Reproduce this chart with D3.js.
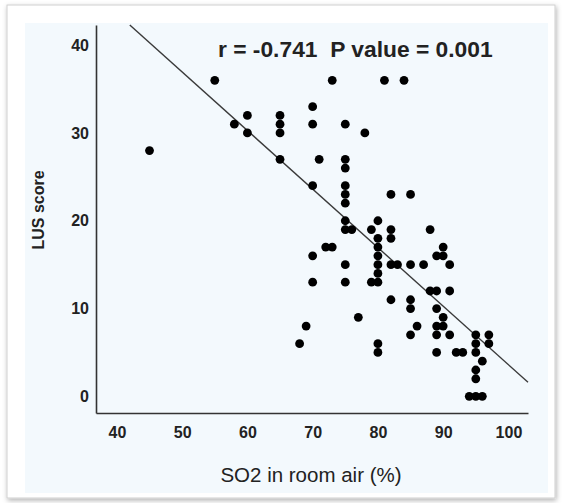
<html lang="en">
  <head>
    <meta charset="UTF-8" />
    <title>LUS score vs SO2</title>
    <script src="https://d3js.org/d3.v7.min.js"></script>
  </head>
  <style>
    body {
      margin: 0;
      background: #ffffff;
    }
    svg {
      display: block;
    }
    .tick text {
      font-family: "Liberation Sans Narrow", "Arial Narrow", "Liberation Sans", Arial, sans-serif;
      font-weight: bold;
      font-size: 16px;
      fill: #222;
    }
  </style>
  <body>
    <div id="viz"></div>
    <script>
      // SO2 in room air (%) and LUS score of each patient
      var so2 = [
        45, 55, 58, 60, 60, 65, 65, 65, 65,
        68, 69, 70, 70, 70, 70, 70, 71, 72, 73, 73,
        75, 75, 75, 75, 75, 75, 75, 75, 75, 75, 76, 77, 78,
        79, 79, 80, 80, 80, 80, 80, 80, 80, 80, 80,
        81, 82, 82, 82, 82, 82, 83, 84, 85, 85, 85, 85, 85, 86, 87,
        88, 88, 89, 89, 89, 89, 89, 89, 90, 90, 90, 90, 91, 91, 91, 92, 93,
        94, 95, 95, 95, 95, 95, 95, 96, 96, 97, 97
      ];
      var lus = [
        28, 36, 31, 32, 30, 32, 31, 30, 27,
        6, 8, 33, 31, 24, 16, 13, 27, 17, 17, 36,
        31, 27, 26, 24, 23, 22, 20, 19, 15, 13, 19, 9, 30,
        19, 13, 20, 18, 17, 16, 15, 14, 13, 6, 5,
        36, 23, 19, 18, 15, 11, 15, 36, 23, 15, 11, 10, 7, 8, 15,
        19, 12, 16, 12, 10, 8, 7, 5, 17, 16, 9, 8, 15, 12, 7, 5, 5,
        0, 7, 6, 5, 3, 2, 0, 4, 0, 7, 6
      ];
      var xTicks = [40, 50, 60, 70, 80, 90, 100];
      var yTicks = [0, 10, 20, 30, 40];
      // fitted line: LUS = intercept + slope * SO2
      var fitIntercept = 70.3;
      var fitSlope = -0.667;
      var statsLabel = "r = -0.741\u00a0\u00a0P value = 0.001";

      var width = 563,
        height = 503;

      var svg = d3
        .select("#viz")
        .append("svg")
        .attr("width", width)
        .attr("height", height);

      var defs = svg.append("defs");
      var shadow = defs
        .append("filter")
        .attr("id", "shadow")
        .attr("x", "-5%")
        .attr("y", "-5%")
        .attr("width", "110%")
        .attr("height", "110%");
      shadow
        .append("feDropShadow")
        .attr("dx", 1)
        .attr("dy", 2)
        .attr("stdDeviation", 2.5)
        .attr("flood-color", "#000")
        .attr("flood-opacity", 0.3);

      // card and panel
      svg
        .append("rect")
        .attr("x", 7)
        .attr("y", 5)
        .attr("width", 548)
        .attr("height", 493)
        .attr("fill", "#ffffff")
        .attr("stroke", "#cfcfcf")
        .attr("filter", "url(#shadow)");
      svg
        .append("rect")
        .attr("x", 25)
        .attr("y", 23)
        .attr("width", 523)
        .attr("height", 470)
        .attr("fill", "#f3f9fd");

      var x = d3.scaleLinear().domain([36.8, 103]).range([96, 528]);
      var y = d3.scaleLinear().domain([-1.9, 42.3]).range([413, 25]);

      var xAxis = svg
        .append("g")
        .attr("transform", "translate(0," + y.range()[0] + ")")
        .call(d3.axisBottom(x).tickValues(xTicks).tickSize(0).tickPadding(14));
      xAxis.select(".domain").attr("stroke", "#333").attr("stroke-width", 1.6);

      var yAxis = svg
        .append("g")
        .attr("transform", "translate(" + x.range()[0] + ",0)")
        .call(d3.axisLeft(y).tickValues(yTicks).tickSize(0).tickPadding(7));
      yAxis.select(".domain").attr("stroke", "#333").attr("stroke-width", 1.6);

      // fit line, clipped to the plot box
      var yTop = y.domain()[1];
      var xStart = (yTop - fitIntercept) / fitSlope;
      var xEnd = x.domain()[1];
      svg
        .append("line")
        .attr("x1", x(xStart))
        .attr("y1", y(yTop))
        .attr("x2", x(xEnd))
        .attr("y2", y(fitIntercept + fitSlope * xEnd))
        .attr("stroke", "#3a3a3a")
        .attr("stroke-width", 1.4);

      svg
        .append("g")
        .selectAll("circle")
        .data(so2)
        .join("circle")
        .attr("cx", function (d) {
          return x(d);
        })
        .attr("cy", function (d, i) {
          return y(lus[i]);
        })
        .attr("r", 4.4)
        .attr("fill", "#000");

      svg
        .append("text")
        .attr("x", 218)
        .attr("y", 57)
        .style("font-family", "'Liberation Sans', Arial, sans-serif")
        .style("font-weight", "bold")
        .style("font-size", "22.8px")
        .attr("fill", "#222")
        .text(statsLabel);

      svg
        .append("text")
        .attr("x", 311)
        .attr("y", 482)
        .attr("text-anchor", "middle")
        .style("font-family", "'Liberation Sans', Arial, sans-serif")
        .style("font-size", "20.5px")
        .attr("fill", "#222")
        .text("SO2 in room air (%)");

      svg
        .append("text")
        .attr("transform", "translate(44,210) rotate(-90)")
        .attr("text-anchor", "middle")
        .style("font-family", "'Liberation Sans Narrow', 'Arial Narrow', 'Liberation Sans', sans-serif")
        .style("font-weight", "bold")
        .style("font-size", "16px")
        .attr("fill", "#222")
        .text("LUS score");
    </script>
  </body>
</html>
